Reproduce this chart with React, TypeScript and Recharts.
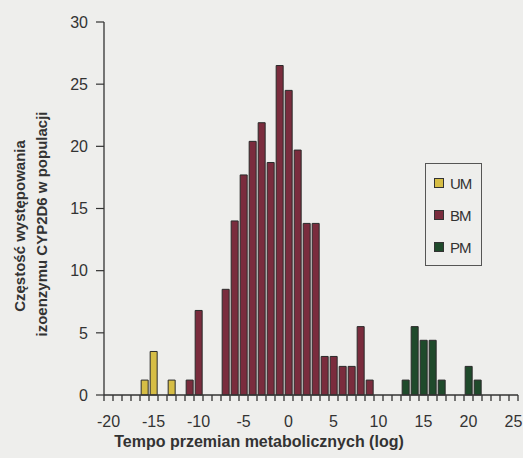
import { BarChart, Bar, XAxis, YAxis, Legend } from "recharts";

// categories on the x axis (log metabolic rate)
const CATEGORIES = [
  -20, -19, -18, -17, -16, -15, -14, -13, -12, -11, -10, -9, -8, -7, -6, -5, -4, -3, -2, -1,
  0, 1, 2, 3, 4, 5, 6, 7, 8, 9, 10, 11, 12, 13, 14, 15, 16, 17, 18, 19, 20, 21, 22, 23, 24, 25,
];
// tick marks sit between categories, as in Excel
const X_BOUNDS = [
  -20.5, -19.5, -18.5, -17.5, -16.5, -15.5, -14.5, -13.5, -12.5, -11.5, -10.5, -9.5, -8.5, -7.5, -6.5, -5.5,
  -4.5, -3.5, -2.5, -1.5, -0.5, 0.5, 1.5, 2.5, 3.5, 4.5, 5.5, 6.5, 7.5, 8.5, 9.5, 10.5, 11.5, 12.5, 13.5,
  14.5, 15.5, 16.5, 17.5, 18.5, 19.5, 20.5, 21.5, 22.5, 23.5, 24.5, 25.5,
];

// UM - ultra rapid metabolizers
const UM_X = [-16, -15, -13];
const UM_Y = [1.2, 3.5, 1.2];

// EM - extensive metabolizers
const EM_X = [-11, -10, -7, -6, -5, -4, -3, -2, -1, 0, 1, 2, 3, 4, 5, 6, 7, 8, 9];
const EM_Y = [1.2, 6.8, 8.5, 14.0, 17.7, 20.4, 21.9, 18.7, 26.5, 24.5, 19.7, 13.8, 13.8, 3.1, 3.1, 2.3, 2.3, 5.5, 1.2];

// PM - poor metabolizers
const PM_X = [13, 14, 15, 16, 17, 20, 21];
const PM_Y = [1.2, 5.5, 4.4, 4.4, 1.2, 2.3, 1.2];

const X_LABELS = [-20, -15, -10, -5, 0, 5, 10, 15, 20, 25];
const Y_TICKS = [0, 5, 10, 15, 20, 25, 30];

const SERIES = [
  { key: "UM", name: "UM", color: "#d6bd45" },
  { key: "BM", name: "BM", color: "#7a2c3d" },
  { key: "PM", name: "PM", color: "#1f4a2b" },
];

const pick = (xs: number[], ys: number[], c: number) => {
  const i = xs.indexOf(c);
  return i >= 0 ? ys[i] : null;
};

const data = CATEGORIES.map((c) => ({
  x: c,
  UM: pick(UM_X, UM_Y, c),
  BM: pick(EM_X, EM_Y, c),
  PM: pick(PM_X, PM_Y, c),
}));

const W = 523;
const H = 458;
const LEFT = 104;
const RIGHT = 5;
const TOP = 22;
const BOTTOM = 63;
const AXIS_Y = H - BOTTOM;
const BAND = (W - LEFT - RIGHT) / CATEGORIES.length;
const FONT = "'Liberation Sans', Arial, sans-serif";
const INK = "#333";

// ticks come in at category boundaries; the label belongs to the category to the right
const XTick = (props: any) => {
  const value = Number(props.payload?.value) + 0.5;
  if (!X_LABELS.includes(value)) return <g />;
  return (
    <text x={Number(props.x) + BAND / 2} y={AXIS_Y + 32} textAnchor="middle" fontSize={16} fontFamily={FONT} fill={INK}>
      {value}
    </text>
  );
};

const YTitle = () => (
  <g fontFamily={FONT} fontWeight="bold" fontSize={15} fill={INK} textAnchor="middle">
    <text transform="translate(25, 226) rotate(-90)">Częstość występowania</text>
    <text transform="translate(47, 224) rotate(-90)">izoenzymu CYP2D6 w populacji</text>
  </g>
);

const XTitle = () => (
  <text x={259} y={447} textAnchor="middle" fontFamily={FONT} fontWeight="bold" fontSize={16} fill={INK}>
    Tempo przemian metabolicznych (log)
  </text>
);

const LegendBox = () => (
  <div
    style={{
      border: "1px solid #555",
      padding: "3px 0 2px 8px",
      width: 47,
      fontFamily: FONT,
      fontSize: 15,
      color: INK,
    }}
  >
    {SERIES.map((s) => (
      <div key={s.key} style={{ display: "flex", alignItems: "center", height: 32, letterSpacing: -1 }}>
        <span
          style={{
            width: 8,
            height: 8,
            background: s.color,
            border: "1px solid #333",
            marginRight: 6,
            display: "inline-block",
          }}
        />
        {s.name}
      </div>
    ))}
  </div>
);

export default function App() {
  return (
    <div style={{ width: W, height: H, background: "#eeeeec" }}>
      <style>{`body{margin:0;background:#eeeeec}`}</style>
      <BarChart
        width={W}
        height={H}
        data={data}
        margin={{ top: TOP, right: RIGHT, left: 0, bottom: 0 }}
        barCategoryGap="13%"
      >
        <XAxis
          dataKey="x"
          type="number"
          domain={[-20.5, 25.5]}
          ticks={X_BOUNDS}
          interval={0}
          height={BOTTOM}
          axisLine={{ stroke: INK, strokeWidth: 1.3 }}
          tickLine={{ stroke: INK, strokeWidth: 1.3 }}
          tickSize={6}
          tick={(p: any) => <XTick {...p} />}
          label={<XTitle />}
          allowDataOverflow
        />
        <YAxis
          width={LEFT}
          domain={[0, 30]}
          ticks={Y_TICKS}
          interval={0}
          tickSize={8}
          tickMargin={8}
          axisLine={{ stroke: INK, strokeWidth: 1.3 }}
          tickLine={{ stroke: INK, strokeWidth: 1.2 }}
          tick={{ fontSize: 16, fontFamily: FONT, fill: INK }}
          label={<YTitle />}
        />
        <Legend
          layout="vertical"
          align="center"
          verticalAlign="middle"
          content={<LegendBox />}
          wrapperStyle={{ left: 425, top: 163, width: 57, height: 98 }}
        />
        {SERIES.map((s) => (
          <Bar
            key={s.key}
            dataKey={s.key}
            name={s.name}
            stackId="a"
            fill={s.color}
            stroke="#2a2a2a"
            strokeWidth={1}
            isAnimationActive={false}
          />
        ))}
      </BarChart>
    </div>
  );
}
